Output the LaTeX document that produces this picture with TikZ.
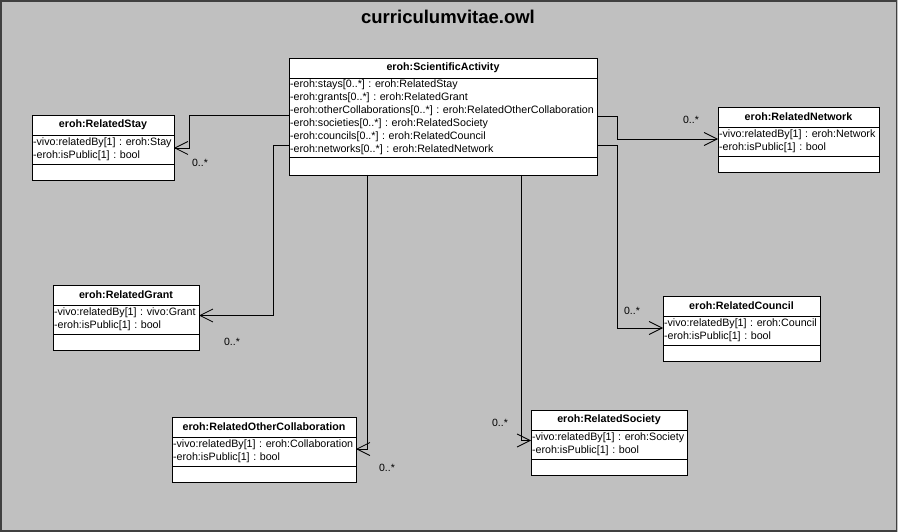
\documentclass[tikz,border=0pt]{standalone}
\usepackage{fontspec}
\setmainfont{Liberation Sans}
\usetikzlibrary{arrows.meta,calc}
\definecolor{canvasgray}{HTML}{C0C0C0}
\definecolor{framegray}{HTML}{404040}

\tikzset{
  compart/.style={draw=black, fill=white, line width=0.8pt, anchor=north west,
    inner sep=0pt, outer sep=0pt},
  classhead/.style={compart, minimum height=20pt,
    font=\fontsize{10.7}{13}\selectfont\bfseries\frenchspacing, align=center},
  classattr/.style={compart, align=left, inner xsep=1pt,
    font=\fontsize{10.7}{13}\selectfont\frenchspacing},
  classops/.style={compart},
  assoc/.style={draw=black, line width=0.8pt,
    -{Straight Barb[length=13pt,width=13pt,line width=0.8pt]}},
  mult/.style={font=\fontsize{10.5}{12}\selectfont, inner sep=0pt},
  diagtitle/.style={font=\fontsize{18.5}{22}\selectfont\bfseries, inner sep=0pt},
}

% one attribute line, never broken
\newcommand\attrline[1]{\mbox{#1}}

% UML class: name, x, y, width, title, attributes, attribute height, operations height
\newcommand\umlclass[8]{%
  \node[classhead, minimum width=#4pt] (#1) at (#2,#3) {#5};
  \node[classattr, minimum width=#4pt, text width=#4pt-2pt,
        minimum height=#7pt] (#1-attr) at (#1.south west) {#6};
  \node[classops, minimum width=#4pt, minimum height=#8pt] (#1-ops)
        at (#1-attr.south west) {};
}

\begin{document}
\begin{tikzpicture}[x=1pt,y=-1pt]
  \useasboundingbox (0,0) rectangle (898,532);
  \fill[canvasgray] (0,0) rectangle (898,532);
  \draw[framegray, line width=1.6pt] (1,1) rectangle (896.5,531);

  \node[diagtitle] (title) at (448,17) {curriculumvitae.owl};

  \umlclass{sa}{289}{58}{308}{eroh:ScientificActivity}{%
    \attrline{-eroh:stays[0..*] : eroh:RelatedStay}\\
    \attrline{-eroh:grants[0..*] : eroh:RelatedGrant}\\
    \attrline{-eroh:otherCollaborations[0..*] : eroh:RelatedOtherCollaboration}\\
    \attrline{-eroh:societies[0..*] : eroh:RelatedSociety}\\
    \attrline{-eroh:councils[0..*] : eroh:RelatedCouncil}\\
    \attrline{-eroh:networks[0..*] : eroh:RelatedNetwork}}{79}{18}

  \umlclass{stay}{32}{115}{142}{eroh:RelatedStay}{%
    \attrline{-vivo:relatedBy[1] : eroh:Stay}\\
    \attrline{-eroh:isPublic[1] : bool}}{29}{16}

  \umlclass{net}{718}{107}{161}{eroh:RelatedNetwork}{%
    \attrline{-vivo:relatedBy[1] : eroh:Network}\\
    \attrline{-eroh:isPublic[1] : bool}}{29}{16}

  \umlclass{grant}{53}{285}{146}{eroh:RelatedGrant}{%
    \attrline{-vivo:relatedBy[1] : vivo:Grant}\\
    \attrline{-eroh:isPublic[1] : bool}}{29}{16}

  \umlclass{council}{663}{296}{157}{eroh:RelatedCouncil}{%
    \attrline{-vivo:relatedBy[1] : eroh:Council}\\
    \attrline{-eroh:isPublic[1] : bool}}{29}{16}

  \umlclass{roc}{172}{417}{184}{eroh:RelatedOtherCollaboration}{%
    \attrline{-vivo:relatedBy[1] : eroh:Collaboration}\\
    \attrline{-eroh:isPublic[1] : bool}}{29}{16}

  \umlclass{soc}{531}{410}{156}{eroh:RelatedSociety}{%
    \attrline{-vivo:relatedBy[1] : eroh:Society}\\
    \attrline{-eroh:isPublic[1] : bool}}{29}{16}

  % associations from ScientificActivity to the related classes
  \draw[assoc] ([yshift=2.5pt]sa-attr.west)
    -| ([xshift=15pt,yshift=1.5pt]stay-attr.east) -- ([yshift=1.5pt]stay-attr.east);
  \draw[assoc] ([yshift=-27.5pt]sa-attr.west)
    -| ([xshift=74pt,yshift=4pt]grant-attr.east) -- ([yshift=4pt]grant-attr.east);
  \draw[assoc] ([yshift=1.5pt]sa-attr.east)
    -| ([xshift=-101pt,yshift=2.5pt]net-attr.west) -- ([yshift=2.5pt]net-attr.west);
  \draw[assoc] ([yshift=-27.5pt]sa-attr.east)
    -| ([xshift=-46pt,yshift=2.5pt]council-attr.west) -- ([yshift=2.5pt]council-attr.west);
  \draw[assoc] ([xshift=-76pt]sa-ops.south) |- ([yshift=2.5pt]roc-attr.east);
  \draw[assoc] ([xshift=78pt]sa-ops.south) |- ([yshift=4pt]soc-attr.west);

  % multiplicities
  \node[mult] (m-stay) at (200,163) {0..*};
  \node[mult] (m-grant) at (232,342) {0..*};
  \node[mult] (m-net) at (691,120) {0..*};
  \node[mult] (m-council) at (632,311) {0..*};
  \node[mult] (m-roc) at (387,468) {0..*};
  \node[mult] (m-soc) at (500,423) {0..*};
\end{tikzpicture}
\end{document}
